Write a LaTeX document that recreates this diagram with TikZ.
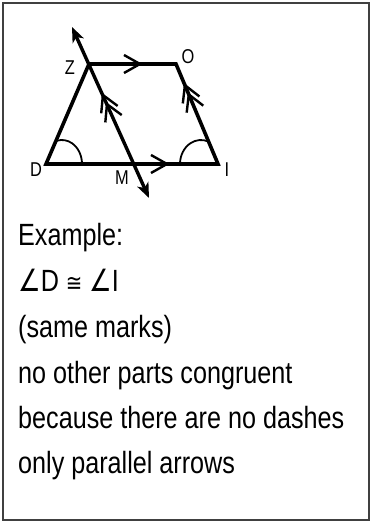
\documentclass[tikz,border=0pt]{standalone}
\usepackage{fontspec}
\setmainfont{Liberation Sans}
\newfontfamily\narrowfont[FakeStretch=0.82]{Liberation Sans}
\newfontfamily\symfont[FakeStretch=0.82]{DejaVu Sans}
\usetikzlibrary{arrows.meta,calc}

\begin{document}
\begin{tikzpicture}[x=1pt,y=1pt,
  side/.style={line width=3.6pt, line join=miter},
  ray/.style={line width=3.4pt,
              {Stealth[length=15pt,width=12pt,inset=4pt]}-{Stealth[length=15pt,width=12pt,inset=4pt]}},
  anglemark/.style={line width=1.8pt},
  chev/.pic={\draw[line width=2.4pt] (-16,9) -- (0,0) -- (-16,-9);},
  dchev/.pic={\draw[line width=2.4pt] (-16,9) -- (0,0) -- (-16,-9)
                                      (-26,9) -- (-10,0) -- (-26,-9);},
  vlabel/.style={font=\narrowfont\fontsize{20}{20}\selectfont, inner sep=0pt},
  txt/.style={font=\narrowfont\fontsize{30.7}{34}\selectfont, anchor=base west, inner sep=0pt}
]
\useasboundingbox (0,0) rectangle (370,521);
\draw[line width=1.5pt, black!75] (3,1) rectangle (369,518);

\coordinate (D) at (46,357);
\coordinate (I) at (218,357);
\coordinate (Z) at (89,457);
\coordinate (O) at (176,457);
\coordinate (top) at (72,494);
\coordinate (bot) at (149,323);
\coordinate (M) at (133.8,357);

\draw[side] (D) -- (Z) -- (O) -- (I) -- cycle;
\draw[ray] (top) -- (bot);

\draw[anglemark] (82,357) arc[start angle=0, end angle=105, x radius=20, y radius=24];
\draw[anglemark] (180,357) arc[start angle=180, end angle=70, x radius=21, y radius=24];

\pic at (140,457) {chev};
\pic at (167,357) {chev};
\pic[rotate=114.1] at ($(Z)!34pt!(M)$) {dchev};
\pic[rotate=112.8] at ($(O)!23pt!(I)$) {dchev};

\node[vlabel] (lZ) at (70,453) {Z};
\node[vlabel] (lO) at (188,464) {O};
\node[vlabel] (lD) at (36,351) {D};
\node[vlabel] (lI) at (227,351) {I};
\node[vlabel] (lM) at (122,343) {M};

\node[txt] (t1) at (18,275) {Example:};
\node[txt] (t2) at (18,229) {{\symfont ∠}D {\symfont\fontsize{24}{24}\selectfont ≅} {\symfont ∠}I};
\node[txt] (t3) at (18,183) {(same marks)};
\node[txt] (t4) at (18,137) {no other parts congruent};
\node[txt] (t5) at (18,92) {because there are no dashes};
\node[txt] (t6) at (18,47) {only parallel arrows};
\end{tikzpicture}
\end{document}
